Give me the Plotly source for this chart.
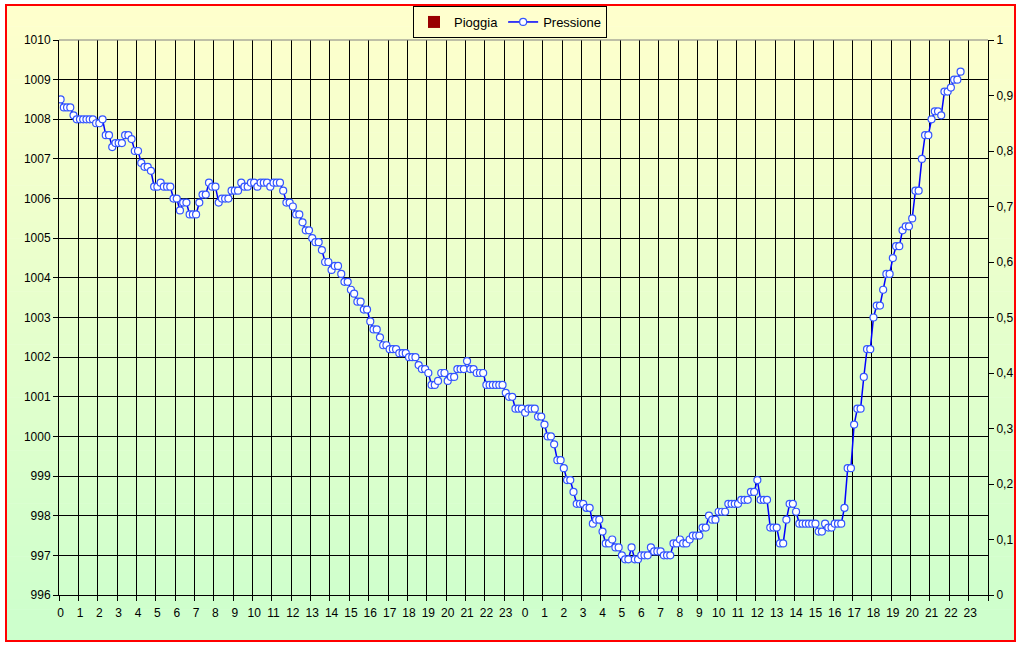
import plotly.graph_objects as go

# ---------------- data ----------------
# Pressure readings (hPa), one every 10 minutes over two days
pressione = [
    1008.5, 1008.3, 1008.3, 1008.3, 1008.1, 1008.0,
    1008.0, 1008.0, 1008.0, 1008.0, 1008.0, 1007.9,
    1007.9, 1008.0, 1007.6, 1007.6, 1007.3, 1007.4,
    1007.4, 1007.4, 1007.6, 1007.6, 1007.5, 1007.2,
    1007.2, 1006.9, 1006.8, 1006.8, 1006.7, 1006.3,
    1006.3, 1006.4, 1006.3, 1006.3, 1006.3, 1006.0,
    1006.0, 1005.7, 1005.9, 1005.9, 1005.6, 1005.6,
    1005.6, 1005.9, 1006.1, 1006.1, 1006.4,
    1006.3, 1006.3, 1005.9, 1006.0, 1006.0, 1006.0,
    1006.2, 1006.2, 1006.2, 1006.4, 1006.3, 1006.3,
    1006.4, 1006.4, 1006.3, 1006.4, 1006.4, 1006.4,
    1006.3, 1006.4, 1006.4, 1006.4, 1006.2, 1005.9,
    1005.9, 1005.8, 1005.6, 1005.6, 1005.4, 1005.2,
    1005.2, 1005.0, 1004.9, 1004.9, 1004.7, 1004.4,
    1004.4, 1004.2, 1004.3, 1004.3, 1004.1, 1003.9,
    1003.9, 1003.7, 1003.6, 1003.4,
    1003.4, 1003.2, 1003.2,
    1002.9, 1002.7, 1002.7, 1002.5, 1002.3, 1002.3,
    1002.2, 1002.2, 1002.2, 1002.1, 1002.1, 1002.1,
    1002.0, 1002.0, 1002.0, 1001.8, 1001.7, 1001.7,
    1001.6, 1001.3, 1001.3, 1001.4, 1001.6, 1001.6,
    1001.4, 1001.5, 1001.5, 1001.7, 1001.7, 1001.7,
    1001.9, 1001.7, 1001.7, 1001.6, 1001.6, 1001.6,
    1001.3, 1001.3, 1001.3, 1001.3, 1001.3, 1001.3,
    1001.1, 1001.0,
    1001.0,
    1000.7, 1000.7, 1000.7, 1000.6, 1000.7, 1000.7, 1000.7, 1000.5, 1000.5, 1000.3,
    1000.0, 1000.0, 999.8, 999.4, 999.4, 999.2, 998.9, 998.9, 998.6, 998.3,
    998.3, 998.3, 998.2, 998.2, 997.8, 997.9, 997.9, 997.6, 997.3, 997.3,
    997.4, 997.2, 997.2, 997.0, 996.9, 996.9, 997.2, 996.9, 996.9, 997.0,
    997.0, 997.0, 997.2, 997.1, 997.1, 997.1, 997.0, 997.0, 997.0, 997.3,
    997.3, 997.4, 997.3, 997.3, 997.4, 997.5, 997.5, 997.5, 997.7, 997.7,
    998.0, 997.9, 997.9, 998.1, 998.1, 998.1, 998.3, 998.3, 998.3, 998.3,
    998.4, 998.4, 998.4, 998.6, 998.6, 998.9, 998.4, 998.4, 998.4, 997.7,
    997.7, 997.7, 997.3, 997.3, 997.9, 998.3, 998.3, 998.1, 997.8, 997.8,
    997.8, 997.8, 997.8, 997.8, 997.6, 997.6, 997.8, 997.7, 997.7, 997.8,
    997.8, 997.8, 998.2, 999.2, 999.2, 1000.3, 1000.7, 1000.7, 1001.5, 1002.2,
    1002.2, 1003.0, 1003.3, 1003.3, 1003.7, 1004.1, 1004.1, 1004.5, 1004.8, 1004.8,
    1005.2, 1005.3, 1005.3, 1005.5, 1006.2, 1006.2, 1007.0, 1007.6, 1007.6, 1008.0,
    1008.2, 1008.2, 1008.1, 1008.7, 1008.7, 1008.8, 1009.0, 1009.0, 1009.2,
]

# Rain (mm), hourly, all zero
pioggia = [0, 0, 0, 0, 0, 0, 0, 0, 0, 0, 0, 0, 0, 0, 0, 0, 0, 0, 0, 0, 0, 0, 0, 0,
           0, 0, 0, 0, 0, 0, 0, 0, 0, 0, 0, 0, 0, 0, 0, 0, 0, 0, 0, 0, 0, 0, 0, 0]

hour_labels = ["0", "1", "2", "3", "4", "5", "6", "7", "8", "9", "10", "11",
               "12", "13", "14", "15", "16", "17", "18", "19", "20", "21", "22", "23",
               "0", "1", "2", "3", "4", "5", "6", "7", "8", "9", "10", "11",
               "12", "13", "14", "15", "16", "17", "18", "19", "20", "21", "22", "23"]

left_ticks = [996, 997, 998, 999, 1000, 1001, 1002, 1003, 1004, 1005, 1006, 1007, 1008, 1009, 1010]
right_ticks = [0, 0.1, 0.2, 0.3, 0.4, 0.5, 0.6, 0.7, 0.8, 0.9, 1]
right_labels = ["0", "0,1", "0,2", "0,3", "0,4", "0,5", "0,6", "0,7", "0,8", "0,9", "1"]

SAMPLES_PER_HOUR = 6
# ---------------- layout geometry ----------------
W, H = 1021, 648
PL, PR, PT, PB = 59, 988, 40, 595  # plot area in pixels


def px(x):
    return (x - PL) / (PR - PL)


def py(y):
    return (PB - y) / (PB - PT)


n_slots = len(hour_labels) * SAMPLES_PER_HOUR
x_press = list(range(len(pressione)))
x_rain = [h * SAMPLES_PER_HOUR + 2.5 for h in range(len(pioggia))]

fig = go.Figure()
fig.add_trace(go.Bar(
    x=x_rain, y=pioggia, name="Pioggia", yaxis="y2",
    marker=dict(color="#990000", line=dict(color="#FF0000", width=0)),
))
fig.add_trace(go.Scatter(
    x=x_press, y=pressione, name="Pressione", mode="lines+markers",
    line=dict(color="#0000FF", width=1.5),
    marker=dict(symbol="circle", size=7, color="white",
                line=dict(color="#3355FF", width=1.2)),
))

# gradient background (yellow top -> green bottom) inside the red frame
shapes = []
top_px, bot_px = 5, 641
N = 120
c0 = (255, 255, 204)
c1 = (204, 255, 204)
for i in range(N):
    y0 = top_px + (bot_px - top_px) * i / N
    y1 = top_px + (bot_px - top_px) * (i + 1) / N + 0.6
    t = (i + 0.5) / N
    col = tuple(round(c0[k] + (c1[k] - c0[k]) * t) for k in range(3))
    shapes.append(dict(type="rect", xref="paper", yref="paper", layer="below",
                       x0=px(6), x1=px(1015), y0=py(y1), y1=py(y0),
                       line=dict(width=0), fillcolor="rgb(%d,%d,%d)" % col))
# top border of plot area (grey)
shapes.append(dict(type="line", xref="paper", yref="paper", layer="above",
                   x0=0, x1=1, y0=1, y1=1, line=dict(color="#808080", width=1)))
# red chart frame
shapes.append(dict(type="rect", xref="paper", yref="paper", layer="above",
                   x0=px(6), x1=px(1015), y0=py(641), y1=py(5),
                   line=dict(color="#FF0000", width=2)))

font = dict(family="Liberation Sans, Arial, sans-serif", size=12, color="black")

fig.update_layout(
    width=W, height=H,
    margin=dict(l=PL, r=W - PR, t=PT, b=H - PB, pad=0, autoexpand=False),
    paper_bgcolor="white",
    plot_bgcolor="rgba(0,0,0,0)",
    font=font,
    showlegend=True,
    bargap=0.2,
    legend=dict(orientation="h", x=px(510), xanchor="center", y=py(6), yanchor="top",
                bgcolor="rgb(255,255,206)", bordercolor="black", borderwidth=1,
                font=dict(family="Liberation Sans, Arial, sans-serif", size=13, color="black"),
                itemwidth=30, tracegroupgap=0),
    shapes=shapes,
    xaxis=dict(
        range=[-0.5, n_slots - 0.5],
        tickmode="array",
        tickvals=[h * SAMPLES_PER_HOUR for h in range(len(hour_labels))],
        ticktext=hour_labels,
        ticks="", showgrid=False, zeroline=False, automargin=False,
        showline=True, linecolor="black", linewidth=1,
        tickfont=font, ticklabelstandoff=7,
        minor=dict(tickmode="array",
                   tickvals=[h * SAMPLES_PER_HOUR - 0.5 for h in range(len(hour_labels) + 1)],
                   showgrid=True, gridcolor="black", gridwidth=1,
                   ticks="outside", ticklen=5, tickcolor="black", tickwidth=1),
    ),
    yaxis=dict(
        range=[996, 1010], tickmode="array", tickvals=left_ticks,
        ticktext=[str(v) for v in left_ticks], automargin=False,
        showgrid=True, gridcolor="black", gridwidth=1, zeroline=False,
        showline=True, linecolor="black", linewidth=1,
        ticks="outside", ticklen=5, tickcolor="black", tickfont=font,
    ),
    yaxis2=dict(
        range=[0, 1], overlaying="y", side="right", automargin=False,
        tickmode="array", tickvals=right_ticks, ticktext=right_labels,
        showgrid=False, zeroline=False,
        showline=True, linecolor="black", linewidth=1,
        ticks="outside", ticklen=5, tickcolor="black", tickfont=font,
    ),
)

fig.write_html("out.html", config={"displayModeBar": False},
               post_script="document.body.style.margin='0';")
